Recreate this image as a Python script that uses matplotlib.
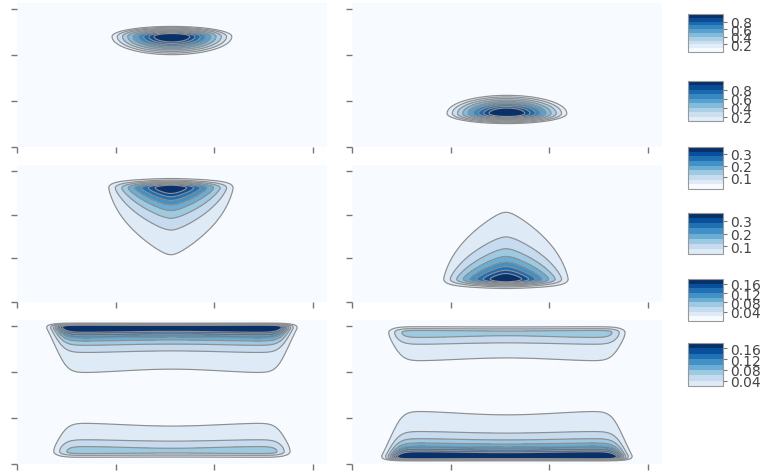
import numpy as np
import matplotlib.pyplot as plt
from matplotlib.colors import Normalize

# grid over the square [0, pi] x [0, pi]
x = np.linspace(0, np.pi, 500)
y = np.linspace(0, np.pi, 500)
X, Y = np.meshgrid(x, y)

# top row: compact peak (cone-shaped, elliptic rings)
peak_center = [1.57, 2.41]
peak_height = 1.24
peak_halfwidth = 0.66
peak_up = 0.24
peak_down = 0.43

# middle row: wedge hanging from the wall
wedge_center = [1.56, 2.62]
wedge_height = 0.38
wedge_halfwidth = 0.62
wedge_up = 0.10
wedge_decay = [0.45, 1.7]
wedge_mix = 0.82

# bottom row: two bands along the walls
band_y = [2.96, 0.27]
band_height = [0.23, 0.07]
band_wall = [0.09, 0.076]
band_decay = [0.20, 0.80]
band_mix = 0.80
band_edges = [0.42, 2.72]
band_dip = 0.10

levels = [np.arange(0, 1.001, 0.1), np.arange(0, 0.3601, 0.04), np.arange(0, 0.1801, 0.02)]
cbar_ticks = [[0.2, 0.4, 0.6, 0.8], [0.1, 0.2, 0.3], [0.04, 0.08, 0.12, 0.16]]


def soft_abs(u, eps):
    return np.sqrt(u**2 + eps**2) - eps


def tent(u, a, eps=0.08):
    return np.clip(1 - soft_abs(u, eps) / a, 0, None)


def peak_field():
    dx = (X - peak_center[0]) / peak_halfwidth
    dy = Y - peak_center[1]
    dy = np.where(dy > 0, dy / peak_up, dy / peak_down)
    rho = np.sqrt(dx**2 + dy**2)
    return peak_height * np.clip(1 - rho, 0, None)


def wedge_field():
    d = wedge_center[1] - Y                      # depth below the peak
    s = soft_abs(d, 0.05)
    lower = wedge_mix * np.exp(-s / wedge_decay[0]) + (1 - wedge_mix) * np.exp(-s / wedge_decay[1])
    gy = np.where(d < 0, np.exp(-d**2 / (2 * wedge_up**2)), lower)
    gx = tent(X - wedge_center[0], wedge_halfwidth)
    return wedge_height * gx * gy


def band_field():
    w = 0.05
    gx = 1 / (1 + np.exp(-(X - band_edges[0]) / w)) / (1 + np.exp((X - band_edges[1]) / w))
    gx = gx * (1 - band_dip * np.exp(-(X - np.pi / 2)**2 / (2 * 0.5**2)))

    # band hugging the upper wall
    d = band_y[0] - Y
    dp = np.clip(d, 0, None)
    lower = band_mix * np.exp(-dp / band_decay[0]) + (1 - band_mix) * np.exp(-dp / band_decay[1])
    g_top = np.where(d < 0, np.exp(-(np.abs(d) / band_wall[0])**4), lower)

    # weaker band near the lower wall
    d = Y - band_y[1]
    g_bot = np.where(d < 0, np.exp(-d**2 / (2 * band_wall[1]**2)),
                     (1 + (d / 0.2)**2) ** -0.6)
    return gx * (band_height[0] * g_top + band_height[1] * g_bot)


fields = [peak_field(), wedge_field(), band_field()]

fig = plt.figure(figsize=(7.62, 4.77), dpi=100)
W, H = 762, 477
rows = [(4, 148), (166, 303), (321, 465)]
cols = [(17, 327), (352, 662)]
cbar_y = [(15, 53), (82, 122), (148, 190), (214, 255), (280, 322), (344, 387)]

for r in range(3):
    lv = levels[r]
    step = lv[1] - lv[0]
    norm = Normalize(vmin=step / 2, vmax=lv[-1] - step / 2)
    for c in range(2):
        top, bot = rows[r]
        left, right = cols[c]
        ax = fig.add_axes([left / W, (H - bot) / H, (right - left) / W, (bot - top) / H])
        z = fields[r] if c == 0 else fields[r][::-1]
        z = np.minimum(z, lv[-1] - 1e-6)
        cs = ax.contourf(X, Y, z, levels=lv, cmap='Blues', norm=norm)
        ax.contour(X, Y, z, levels=lv[1:-1], colors='#8f8f8f', linewidths=0.85)
        ax.set_xlim(0, np.pi)
        ax.set_ylim(0, np.pi)
        ax.set_xticks([0, 1, 2, 3])
        ax.set_yticks([0, 1, 2, 3])
        ax.set_xticklabels([])
        ax.set_yticklabels([])
        ax.tick_params(length=4, width=1, color='#777777')
        for s in ax.spines.values():
            s.set_visible(False)

        ct, cb_ = cbar_y[2 * r + c]
        cax = fig.add_axes([688 / W, (H - cb_) / H, 35 / W, (cb_ - ct) / H])
        cb = fig.colorbar(cs, cax=cax, ticks=cbar_ticks[r])
        cax.set_ylim(lv[1], lv[-1])
        cb.outline.set_edgecolor('#999999')
        cb.ax.tick_params(labelsize=10, labelcolor='#444444', color='#777777', length=3, pad=2)

fig.savefig('out.png', dpi=100)
